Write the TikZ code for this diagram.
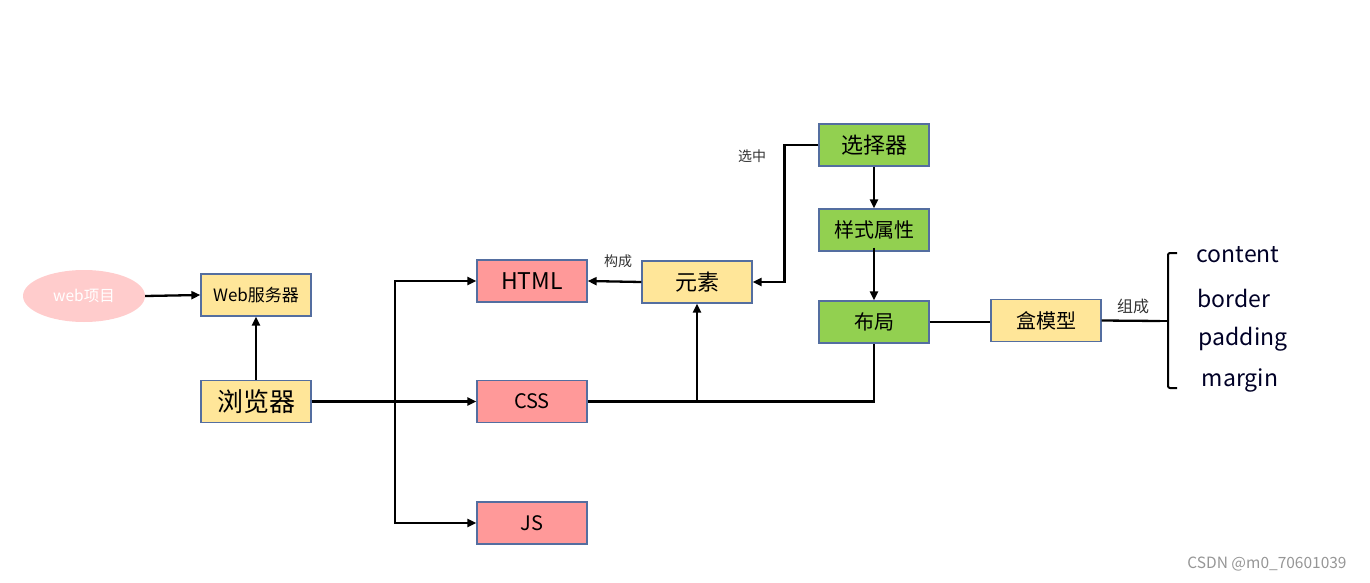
\documentclass[tikz,border=0pt]{standalone}
\usepackage{fontspec}
\setmainfont{Noto Sans CJK SC}
\usetikzlibrary{arrows.meta,shapes.geometric}
\definecolor{boxedge}{RGB}{84,110,160}
\definecolor{yellowfill}{RGB}{255,230,153}
\definecolor{redfill}{RGB}{255,153,153}
\definecolor{greenfill}{RGB}{146,208,80}
\definecolor{pinkfill}{RGB}{255,204,204}
\definecolor{wmgray}{RGB}{150,150,150}
\tikzset{
  base/.style={draw=boxedge, line width=1.3pt, minimum width=110pt, minimum height=42pt, inner sep=0pt, text=black},
  ybox/.style={base, fill=yellowfill},
  rbox/.style={base, fill=redfill},
  gbox/.style={base, fill=greenfill},
  link/.style={line width=2.3pt, black},
  arr/.style={link, -{Triangle[length=9pt,width=8pt]}},
  lbl/.style={font=\fontsize{14}{16}\selectfont, text=black!80}
}
\begin{document}
\begin{tikzpicture}[x=1pt,y=-1pt]
\useasboundingbox (0,0) rectangle (1370,583);

% left: project, server, browser
\node[ellipse, fill=pinkfill, minimum width=122pt, minimum height=52pt, inner sep=0pt,
      text=white, font=\fontsize{15.5}{18}\selectfont] (proj) at (84,296) {web项目};
\node[ybox, font=\fontsize{17}{20}\selectfont] (server) at (256,295) {Web服务器};
\node[ybox, font=\fontsize{26}{30}\selectfont] (browser) at (256,401.5) {浏览器};

% the three resource types
\node[rbox, font=\fontsize{23}{26}\selectfont] (html) at (532,281) {HTML};
\node[rbox, font=\fontsize{20}{24}\selectfont] (css) at (532,401.5) {CSS};
\node[rbox, font=\fontsize{20}{24}\selectfont] (js) at (532,523) {JS};

% element / selector chain
\node[ybox, font=\fontsize{22}{26}\selectfont] (elem) at (697,282) {元素};
\node[gbox, font=\fontsize{22}{26}\selectfont] (sel) at (874,145) {选择器};
\node[gbox, font=\fontsize{20}{24}\selectfont] (style) at (874,230) {样式属性};
\node[gbox, font=\fontsize{20}{24}\selectfont] (layout) at (874,322) {布局};
\node[ybox, font=\fontsize{20}{24}\selectfont] (boxm) at (1046,320.5) {盒模型};

% box model parts
\begin{scope}[font=\fontsize{23}{26}\selectfont, text=black!85!blue]
\node (content) at (1238,255) {content};
\node (border)  at (1234,298) {border};
\node (padding) at (1243,339) {padding};
\node (margin)  at (1240,380) {margin};
\end{scope}
\coordinate (tip) at (1160,321);
\draw[link, line width=2pt, rounded corners=2pt]
  (1177,253) -- (1168,253) -- (1168,321) -- (1168,388) -- (1177,388);
\draw[link, line width=2pt] (1168,321) -- (tip);

% edge labels
\node[lbl] (lgc) at (618,261) {构成};
\node[lbl] (lxz) at (752,156) {选中};
\node[lbl, font=\fontsize{16}{18}\selectfont] (lzc) at (1133,306) {组成};

% connectors
\draw[arr] (proj.east) -- (server.west);
\draw[arr] (browser.north) -- (server.south);
\coordinate (split) at (395,401.5);
\draw[link] (browser.east) -- (split);
\draw[arr] (split) -- (css.west);
\draw[arr] (split) |- (html.west);
\draw[arr] (split) |- (js.west);
\draw[arr] (elem.west) -- (html.east);
\draw[arr] (sel.west) -- ++(-34,0) |- (elem.east);
\draw[arr] (sel.south) -- (style.north);
\draw[arr] ([yshift=4pt]style.south) -- (layout.north);
\draw[link] (css.east) -| (layout.south);
\draw[arr] (elem.south |- css.east) -- (elem.south);
\draw[link] (layout.east) -- (boxm.west |- layout.east);
\draw[link] (boxm.east) -- (tip);

% watermark
\node[text=wmgray, font=\fontsize{15.5}{18}\selectfont] (wm) at (1267,564) {CSDN @m0\_70601039};
\end{tikzpicture}
\end{document}
